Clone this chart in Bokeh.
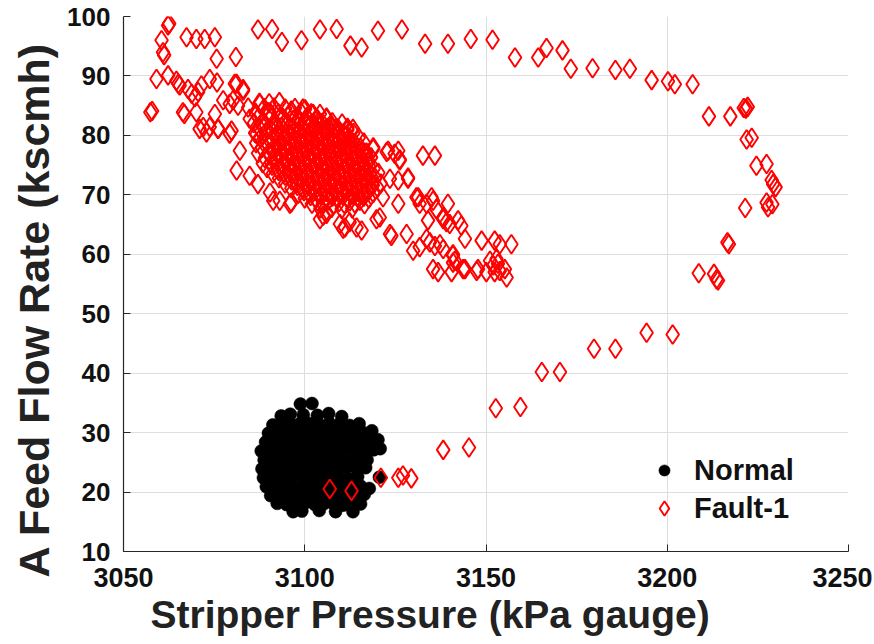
from bokeh.plotting import figure
from bokeh.models import FixedTicker, Legend, LegendItem, Title
from bokeh.embed import file_html
from bokeh.resources import INLINE

x_ticks = [3050, 3100, 3150, 3200, 3250]
y_ticks = [10, 20, 30, 40, 50, 60, 70, 80, 90, 100]
series_names = ["Normal", "Fault-1"]
x_title = "Stripper Pressure (kPa gauge)"
y_title = "A Feed Flow Rate (kscmh)"

# Normal operation cluster (x = stripper pressure, y = feed flow)
normal_pts = [
    (3098.8, 34.8), (3102.0, 34.9),
    (3093.5, 32.8), (3096.0, 33.1), (3099.6, 33.0), (3103.5, 32.9), (3106.6, 33.2), (3110.2, 32.7),
    (3091.2, 31.3), (3093.8, 31.6), (3096.4, 31.4), (3099.0, 31.7), (3101.6, 31.5), (3104.2, 31.3),
    (3106.8, 31.6), (3109.5, 31.4), (3112.4, 31.2), (3115.0, 31.5),
    (3090.0, 29.9), (3092.6, 30.1), (3095.2, 30.0), (3097.8, 29.8), (3100.4, 30.2), (3103.0, 30.0),
    (3105.6, 29.9), (3108.2, 30.1), (3110.8, 29.8), (3113.4, 30.2), (3116.0, 30.0), (3118.5, 30.3),
    (3089.2, 28.4), (3091.6, 28.6), (3094.2, 28.5), (3096.8, 28.3), (3099.4, 28.7), (3102.0, 28.5),
    (3104.6, 28.4), (3107.2, 28.6), (3109.8, 28.5), (3112.4, 28.3), (3115.0, 28.6), (3117.6, 28.4),
    (3120.2, 28.8),
    (3088.0, 26.9), (3090.4, 27.1), (3093.0, 27.0), (3095.6, 26.8), (3098.2, 27.2), (3100.8, 27.0),
    (3103.4, 26.9), (3106.0, 27.1), (3108.6, 26.8), (3111.2, 27.2), (3113.8, 27.0), (3116.4, 26.9),
    (3119.0, 27.1), (3120.8, 27.3),
    (3088.8, 25.4), (3091.4, 25.6), (3094.0, 25.5), (3096.6, 25.3), (3099.2, 25.7), (3101.8, 25.5),
    (3104.4, 25.4), (3107.0, 25.6), (3109.6, 25.5), (3112.2, 25.3), (3114.8, 25.6), (3117.2, 25.4),
    (3088.2, 23.9), (3090.8, 24.1), (3093.4, 24.0), (3096.0, 23.8), (3098.6, 24.2), (3101.2, 24.0),
    (3103.8, 23.9), (3106.4, 24.1), (3109.0, 23.8), (3111.6, 24.2), (3114.2, 24.0), (3116.8, 24.1),
    (3088.6, 22.4), (3091.2, 22.6), (3093.8, 22.5), (3096.4, 22.3), (3099.0, 22.7), (3101.6, 22.5),
    (3104.2, 22.4), (3106.8, 22.6), (3109.4, 22.5), (3112.0, 22.3), (3114.6, 22.6), (3120.6, 22.5),
    (3089.4, 20.9), (3092.0, 21.1), (3094.6, 21.0), (3097.2, 20.8), (3099.8, 21.2), (3102.4, 21.0),
    (3105.0, 20.9), (3107.6, 21.1), (3110.2, 20.8), (3112.8, 21.2), (3115.4, 21.0), (3117.8, 20.6),
    (3090.6, 19.4), (3093.2, 19.6), (3095.8, 19.5), (3098.4, 19.3), (3101.0, 19.7), (3103.6, 19.5),
    (3106.2, 19.4), (3108.8, 19.6), (3111.4, 19.5), (3114.0, 19.3), (3116.4, 19.6),
    (3092.4, 18.1), (3095.0, 17.9), (3097.6, 18.0), (3100.2, 18.2), (3102.8, 17.9), (3105.4, 18.1),
    (3108.0, 18.0), (3110.6, 17.8), (3113.2, 18.1), (3115.4, 18.0),
    (3096.8, 16.7), (3099.2, 16.8), (3104.0, 16.9), (3108.5, 16.7), (3113.3, 16.7),
]

# Fault-1: trajectory loop (low arm, right side, upper arc)
fault_loop_pts = [
    (3106.9, 20.5), (3112.9, 20.2), (3121.0, 22.4), (3125.8, 22.4), (3127.1, 22.8), (3129.4, 22.3),
    (3138.2, 27.1), (3145.3, 27.5), (3152.7, 34.1), (3159.5, 34.3), (3165.4, 40.2), (3170.4, 40.2),
    (3179.8, 44.1), (3185.7, 44.1), (3194.3, 46.8), (3201.5, 46.5), (3208.7, 56.8), (3212.9, 56.7),
    (3213.6, 55.8), (3214.0, 55.6), (3216.6, 62.0), (3217.0, 61.7), (3221.5, 67.8), (3227.4, 68.7),
    (3227.8, 67.9), (3229.0, 68.4), (3228.8, 72.5), (3229.2, 71.8), (3229.9, 71.3), (3224.6, 74.9),
    (3227.4, 75.2), (3221.9, 79.3), (3223.3, 79.6), (3221.1, 84.6), (3221.7, 84.5), (3222.2, 84.8),
    (3211.5, 83.2), (3217.4, 83.2), (3207.0, 88.6), (3202.1, 88.6), (3200.2, 89.1), (3195.7, 89.3),
    (3189.7, 91.2), (3185.7, 91.0), (3179.4, 91.3), (3173.4, 91.2), (3171.1, 94.3), (3166.7, 94.7),
    (3164.4, 93.1), (3158.0, 93.1), (3151.8, 96.1), (3145.8, 96.2), (3139.5, 95.4), (3133.2, 95.4),
    (3126.8, 97.8), (3120.2, 97.6), (3115.7, 94.8), (3112.6, 95.1), (3108.8, 97.9), (3104.2, 97.8),
    (3099.1, 96.0), (3093.7, 95.7), (3091.0, 97.9), (3087.1, 97.8), (3081.0, 93.2), (3075.7, 92.9),
    (3075.2, 96.5), (3072.4, 96.2), (3070.1, 96.2), (3067.4, 96.5), (3062.3, 98.5), (3062.6, 98.8),
    (3060.5, 96.0), (3060.9, 94.0), (3061.2, 93.5), (3059.1, 89.5), (3062.3, 90.1), (3057.4, 83.9),
    (3057.9, 84.1),
]

# Fault-1: scattered points on the upper-left flank of the cluster
fault_left_pts = [
    (3064.6, 89.2), (3065.1, 88.7), (3065.5, 88.4), (3067.8, 87.8), (3068.8, 87.0), (3069.7, 86.4),
    (3070.6, 87.3), (3071.5, 88.4), (3073.8, 89.5), (3075.8, 88.9), (3066.4, 83.9), (3066.8, 83.6),
    (3070.1, 83.9), (3072.0, 81.4), (3071.0, 81.1), (3072.9, 80.5), (3075.2, 83.6), (3076.1, 81.1),
    (3077.5, 85.9), (3079.3, 85.3), (3079.8, 80.8), (3080.7, 88.7), (3083.0, 87.8), (3081.6, 85.0),
    (3084.4, 84.7), (3087.6, 85.3), (3082.1, 77.4), (3081.2, 74.1), (3084.8, 73.2), (3087.1, 71.8),
    (3090.4, 70.4), (3093.1, 69.0), (3095.9, 68.5), (3084.8, 82.8), (3086.7, 80.2), (3088.5, 81.4),
    (3090.4, 83.9), (3081.2, 88.7), (3083.0, 87.5), (3080.2, 85.9), (3079.3, 80.3), (3073.8, 81.4),
    (3076.1, 81.1),
]

# Fault-1: scattered points on the lower-right flank of the cluster
fault_right_pts = [
    (3113.3, 81.1), (3118.9, 77.7), (3123.0, 77.4), (3125.8, 77.4), (3126.2, 76.0), (3132.6, 76.6),
    (3135.9, 76.6), (3123.5, 72.7), (3125.8, 72.4), (3128.5, 72.7), (3121.6, 69.6), (3125.8, 68.5),
    (3130.8, 69.6), (3135.0, 69.6), (3133.6, 68.5), (3136.3, 67.6), (3138.2, 66.2), (3120.7, 66.2),
    (3119.8, 65.9), (3123.5, 63.4), (3128.1, 63.4), (3109.7, 65.1), (3111.1, 64.5), (3114.3, 64.5),
    (3115.7, 64.0), (3105.1, 66.5), (3104.2, 65.9), (3112.4, 65.4), (3126.2, 75.8), (3128.5, 72.9),
    (3135.4, 69.0), (3139.5, 68.5), (3131.3, 69.6), (3131.7, 68.5), (3134.0, 65.7), (3138.2, 65.9),
    (3139.1, 65.4), (3140.0, 65.1), (3142.3, 65.7), (3143.2, 64.8), (3144.2, 62.6), (3129.9, 60.6),
    (3131.7, 61.2), (3133.6, 62.6), (3134.5, 62.0), (3135.9, 61.4), (3137.3, 61.7), (3138.2, 60.9),
    (3140.9, 59.8), (3141.4, 58.9), (3135.4, 57.5), (3136.8, 57.0), (3140.5, 57.0), (3144.2, 57.5),
    (3147.8, 57.5), (3148.8, 62.3), (3152.4, 62.3), (3153.8, 61.7), (3157.0, 61.7), (3151.1, 58.9),
    (3152.0, 58.1), (3153.3, 58.4), (3150.1, 57.0), (3152.4, 57.0), (3153.8, 57.2), (3155.7, 56.1),
    (3110.6, 64.3), (3123.9, 63.1), (3140.9, 58.6), (3143.7, 57.5), (3147.4, 57.2), (3152.9, 59.2),
    (3155.2, 57.5), (3140.9, 60.0), (3096.3, 84.2), (3099.5, 84.5), (3102.3, 83.6), (3106.0, 82.8),
    (3108.3, 81.1), (3118.9, 78.0), (3122.6, 77.2), (3124.8, 76.9), (3091.3, 69.0), (3096.3, 68.7),
    (3106.0, 66.8),
]

# Fault-1: dense core of the cluster
fault_core_pts = [
    (3087.5, 85.5), (3090.2, 85.4), (3093.0, 85.6),
    (3088.8, 84.6), (3091.5, 84.7), (3094.6, 84.5), (3097.3, 84.6), (3100.1, 84.4),
    (3086.4, 83.8), (3089.9, 83.9), (3092.7, 83.7), (3096.1, 83.8), (3099.0, 83.9), (3101.8, 83.7), (3104.2, 83.6),
    (3087.2, 83.0), (3090.8, 83.1), (3094.0, 82.9), (3097.5, 83.0), (3100.6, 83.1), (3103.3, 82.9), (3106.0, 83.0),
    (3086.0, 82.1), (3088.7, 82.2), (3092.1, 82.0), (3095.3, 82.1), (3098.6, 82.2), (3101.9, 82.0),
    (3104.8, 82.1), (3107.6, 82.2), (3110.3, 82.0),
    (3087.4, 81.3), (3090.5, 81.2), (3093.6, 81.4), (3096.8, 81.3), (3099.7, 81.2), (3102.9, 81.4),
    (3106.2, 81.3), (3109.1, 81.2), (3111.8, 81.3),
    (3086.3, 80.4), (3089.2, 80.5), (3092.4, 80.3), (3095.5, 80.4), (3098.3, 80.5), (3101.4, 80.3),
    (3104.5, 80.4), (3107.5, 80.5), (3110.6, 80.3), (3113.4, 80.4),
    (3087.8, 79.6), (3090.9, 79.5), (3094.2, 79.7), (3097.1, 79.6), (3100.2, 79.5), (3103.2, 79.7),
    (3106.3, 79.6), (3109.4, 79.5), (3112.2, 79.7), (3114.9, 79.6),
    (3086.6, 78.7), (3089.5, 78.8), (3092.8, 78.6), (3095.8, 78.7), (3098.9, 78.8), (3101.7, 78.6),
    (3104.9, 78.7), (3108.0, 78.8), (3110.8, 78.6), (3113.7, 78.7), (3116.3, 78.8),
    (3088.2, 77.9), (3091.3, 77.8), (3094.5, 78.0), (3097.6, 77.9), (3100.5, 77.8), (3103.6, 78.0),
    (3106.7, 77.9), (3109.6, 77.8), (3112.5, 78.0), (3115.4, 77.9),
    (3087.1, 77.0), (3090.1, 77.1), (3093.2, 76.9), (3096.4, 77.0), (3099.3, 77.1), (3102.3, 76.9),
    (3105.4, 77.0), (3108.3, 77.1), (3111.2, 76.9), (3114.1, 77.0), (3117.0, 77.1),
    (3089.0, 76.2), (3091.9, 76.3), (3095.0, 76.1), (3098.1, 76.2), (3101.0, 76.3), (3104.1, 76.1),
    (3107.1, 76.2), (3110.0, 76.3), (3112.9, 76.1), (3115.8, 76.2), (3118.3, 76.3),
    (3088.4, 75.3), (3090.7, 75.4), (3093.8, 75.2), (3096.9, 75.3), (3099.8, 75.4), (3102.8, 75.2),
    (3105.8, 75.3), (3108.8, 75.4), (3111.7, 75.2), (3114.6, 75.3), (3117.4, 75.4),
    (3089.6, 74.5), (3092.5, 74.4), (3095.6, 74.6), (3098.7, 74.5), (3101.6, 74.4), (3104.6, 74.6),
    (3107.6, 74.5), (3110.5, 74.4), (3113.4, 74.6), (3116.2, 74.5), (3119.0, 74.4),
    (3091.2, 73.6), (3094.3, 73.7), (3097.4, 73.5), (3100.4, 73.6), (3103.4, 73.7), (3106.4, 73.5),
    (3109.3, 73.6), (3112.3, 73.7), (3115.1, 73.5), (3118.0, 73.6), (3120.3, 73.7),
    (3092.9, 72.8), (3096.0, 72.9), (3099.1, 72.7), (3102.1, 72.8), (3105.2, 72.9), (3108.1, 72.7),
    (3111.1, 72.8), (3113.9, 72.9), (3116.8, 72.7), (3119.5, 72.8),
    (3094.6, 71.9), (3097.8, 72.0), (3100.8, 71.8), (3103.9, 71.9), (3106.9, 72.0), (3109.9, 71.8),
    (3112.7, 71.9), (3115.6, 72.0), (3118.5, 71.8), (3121.0, 71.9),
    (3096.3, 71.1), (3099.5, 71.0), (3102.6, 71.2), (3105.6, 71.1), (3108.6, 71.0), (3111.5, 71.2),
    (3114.4, 71.1), (3117.3, 71.0), (3120.1, 71.2),
    (3098.2, 70.2), (3101.3, 70.3), (3104.3, 70.1), (3107.4, 70.2), (3110.3, 70.3), (3113.2, 70.1),
    (3116.1, 70.2), (3118.9, 70.3),
    (3100.0, 69.4), (3103.1, 69.3), (3106.1, 69.5), (3109.1, 69.4), (3112.0, 69.3), (3114.9, 69.5),
    (3117.7, 69.4),
    (3102.0, 68.5), (3105.0, 68.6), (3108.0, 68.4), (3110.9, 68.5), (3113.8, 68.6), (3116.5, 68.4),
    (3104.3, 67.7), (3107.4, 67.8), (3110.2, 67.6), (3113.1, 67.7),
]

# Fault-1: additional points filling the centre of the cluster
fault_center_pts = [
    (3093.5, 82.5), (3096.8, 82.6), (3100.0, 82.4), (3103.2, 82.5),
    (3092.0, 81.7), (3095.1, 81.8), (3098.2, 81.6), (3101.3, 81.7), (3104.4, 81.8), (3107.4, 81.6),
    (3091.0, 80.8), (3094.0, 80.9), (3097.0, 80.7), (3100.0, 80.8), (3103.0, 80.9), (3106.0, 80.7),
    (3109.0, 80.8), (3111.8, 80.9),
    (3092.5, 80.0), (3095.6, 80.1), (3098.7, 79.9), (3101.7, 80.0), (3104.8, 80.1), (3107.9, 79.9),
    (3110.9, 80.0),
    (3091.2, 79.1), (3094.3, 79.2), (3097.4, 79.0), (3100.4, 79.1), (3103.5, 79.2), (3106.5, 79.0),
    (3109.6, 79.1), (3112.6, 79.2),
    (3090.0, 78.3), (3093.0, 78.4), (3096.1, 78.2), (3099.2, 78.3), (3102.2, 78.4), (3105.3, 78.2),
    (3108.3, 78.3), (3111.3, 78.4), (3114.2, 78.2),
    (3091.6, 77.4), (3094.7, 77.5), (3097.8, 77.3), (3100.8, 77.4), (3103.9, 77.5), (3106.9, 77.3),
    (3109.9, 77.4), (3112.8, 77.5), (3115.7, 77.3),
    (3090.4, 76.6), (3093.5, 76.7), (3096.6, 76.5), (3099.6, 76.6), (3102.6, 76.7), (3105.6, 76.5),
    (3108.6, 76.6), (3111.5, 76.7), (3114.4, 76.5), (3117.1, 76.6),
    (3092.2, 75.7), (3095.3, 75.8), (3098.4, 75.6), (3101.4, 75.7), (3104.4, 75.8), (3107.4, 75.6),
    (3110.3, 75.7), (3113.2, 75.8), (3116.0, 75.6),
    (3091.0, 74.9), (3094.1, 75.0), (3097.2, 74.8), (3100.2, 74.9), (3103.2, 75.0), (3106.2, 74.8),
    (3109.1, 74.9), (3112.0, 75.0), (3114.9, 74.8), (3117.7, 74.9),
    (3092.8, 74.0), (3095.9, 74.1), (3099.0, 73.9), (3102.0, 74.0), (3105.0, 74.1), (3108.0, 73.9),
    (3110.9, 74.0), (3113.8, 74.1), (3116.6, 73.9),
    (3094.6, 73.2), (3097.7, 73.3), (3100.7, 73.1), (3103.7, 73.2), (3106.7, 73.3), (3109.7, 73.1),
    (3112.6, 73.2), (3115.5, 73.3), (3118.3, 73.1),
    (3096.4, 72.4), (3099.4, 72.5), (3102.4, 72.3), (3105.4, 72.4), (3108.4, 72.5), (3111.4, 72.3),
    (3114.3, 72.4), (3117.1, 72.5),
    (3098.0, 71.5), (3101.1, 71.6), (3104.2, 71.4), (3107.2, 71.5), (3110.1, 71.6), (3113.0, 71.4),
    (3115.9, 71.5), (3118.8, 71.6),
    (3099.8, 70.6), (3102.9, 70.7), (3105.9, 70.5), (3108.9, 70.6), (3111.8, 70.7), (3114.7, 70.5),
    (3117.5, 70.6),
    (3101.6, 69.8), (3104.6, 69.9), (3107.6, 69.7), (3110.6, 69.8), (3113.5, 69.9), (3116.3, 69.7),
    (3103.5, 68.9), (3106.5, 69.0), (3109.5, 68.8), (3112.4, 68.9), (3115.2, 69.0),
]

FONT = "Liberation Sans"

normal_x = [p_[0] for p_ in normal_pts]
normal_y = [p_[1] for p_ in normal_pts]
fault_all = fault_core_pts + fault_center_pts + fault_left_pts + fault_right_pts + fault_loop_pts
fault_x = [p_[0] for p_ in fault_all]
fault_y = [p_[1] for p_ in fault_all]

p = figure(
    frame_width=725, frame_height=535,
    x_range=(3050, 3250), y_range=(10, 100),
    output_backend="svg", toolbar_location=None,
    min_border_left=123, min_border_right=24, min_border_top=16, min_border_bottom=90,
)
p.outline_line_color = None
p.background_fill_color = "white"
p.border_fill_color = "white"

r_norm = p.scatter(normal_x, normal_y, marker="circle", size=13,
                   fill_color="black", line_color="black", line_width=0.5)
r_fault = p.scatter(fault_x, fault_y, marker="diamond", size=19,
                    fill_color=None, line_color="#ff0000", line_width=1.9)

for ax, ticks in ((p.xaxis[0], x_ticks), (p.yaxis[0], y_ticks)):
    ax.ticker = FixedTicker(ticks=ticks)
    ax.axis_line_color = "#262626"
    ax.axis_line_width = 1.2
    ax.major_tick_line_color = "#262626"
    ax.major_tick_in = 7
    ax.major_tick_out = 0
    ax.minor_tick_line_color = None
    ax.major_label_text_font = FONT
    ax.major_label_text_font_style = "bold"
    ax.major_label_text_font_size = "26px"
    ax.major_label_text_color = "#111111"

p.xaxis[0].major_label_text_font_size = "27px"
p.xaxis[0].major_label_standoff = 16
p.yaxis[0].major_label_standoff = 13

for g, ticks in ((p.xgrid[0], x_ticks), (p.ygrid[0], y_ticks)):
    g.ticker = FixedTicker(ticks=ticks)
    g.grid_line_color = "#dedede"
    g.grid_line_width = 1

# axis titles (placed like the reference, slightly off-centre)
p.add_layout(Title(text=x_title, align="left", offset=27, standoff=3,
                   text_font=FONT, text_font_style="bold", text_font_size="39px",
                   text_color="#222222"), "below")
p.add_layout(Title(text=y_title, align="left", offset=-26, standoff=14,
                   text_font=FONT, text_font_style="bold", text_font_size="43px",
                   text_color="#222222"), "left")

common = dict(border_line_color=None, background_fill_alpha=0,
              label_text_font=FONT, label_text_font_style="bold", label_text_font_size="29px",
              label_text_color="#111111", spacing=0, padding=0, margin=0)
leg1 = Legend(items=[LegendItem(label=series_names[0], renderers=[r_norm])],
              location=(527, 62), glyph_width=28, glyph_height=38, label_standoff=16, **common)
leg2 = Legend(items=[LegendItem(label=series_names[1], renderers=[r_fault])],
              location=(523, 24), glyph_width=36, glyph_height=38, label_standoff=12, **common)
p.add_layout(leg1)
p.add_layout(leg2)

open("out.html", "w").write(file_html(p, INLINE))
